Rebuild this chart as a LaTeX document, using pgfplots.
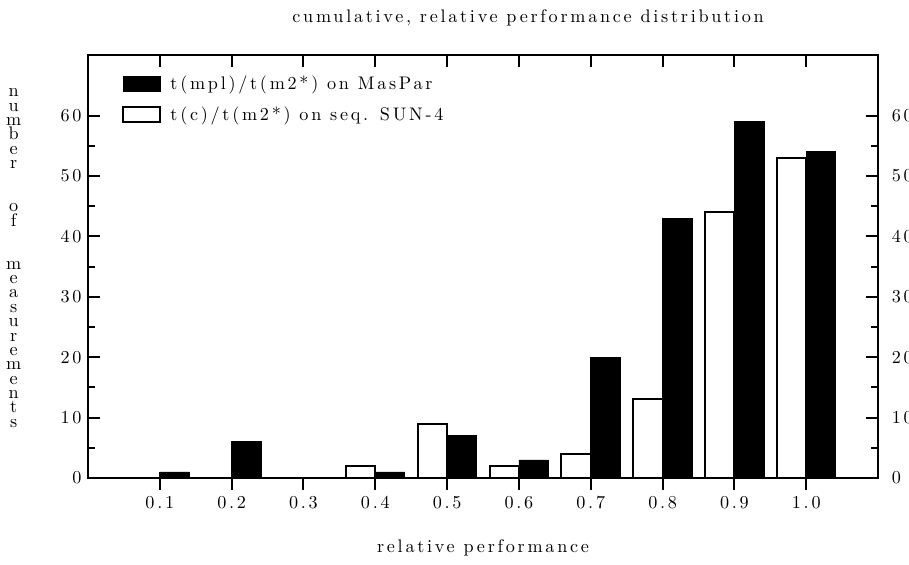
\documentclass[border=0pt]{standalone}
\usepackage{fontspec}
\setmainfont{lmroman10-regular.otf}[LetterSpace=15]
\usepackage{pgfplots}
\pgfplotsset{compat=1.18}

% common frame for both axes
\pgfplotsset{
  frame/.style={
    scale only axis, width=434.5pt, height=232.6pt,
    xmin=0, xmax=1.1, ymin=0, ymax=70,
    xtick={0.1,0.2,0.3,0.4,0.5,0.6,0.7,0.8,0.9,1.0},
    ytick={0,10,20,30,40,50,60}, minor y tick num=1,
    major tick length=6.5pt, minor tick length=4pt,
    every tick/.style={black, line width=1.1pt},
    axis line style={line width=1.1pt},
    /pgf/number format/assume math mode=true,
  },
  rect/.style={legend image code/.code={\draw[##1] (0pt,-4.1pt) rectangle (20.4pt,4.1pt);}},
}

\begin{document}
\begin{tikzpicture}
\begin{axis}[frame,
  xtick pos=lower, xtick align=outside,
  ytick pos=left, ytick align=inside,
  xticklabels={0.1,0.2,0.3,0.4,0.5,0.6,0.7,0.8,0.9,1.0},
  title={cumulative, relative performance distribution},
  title style={at={(axis description cs:0.557,1.062)}, anchor=center},
  xlabel={relative performance},
  xlabel style={at={(axis description cs:0.5,-0.165)}, anchor=center},
  ylabel={n\\u\\m\\b\\e\\r\\[15.8pt]o\\f\\[15.8pt]m\\e\\a\\s\\u\\r\\e\\m\\e\\n\\t\\s},
  ylabel style={at={(axis description cs:-0.094,0.52)}, anchor=center,
    rotate=-90, align=center, font=\fontsize{10}{7.9}\selectfont},
  legend style={at={(axis description cs:0.036,0.969)}, anchor=north west,
    draw=none, fill=none, row sep=4pt, column sep=3pt},
  legend cell align=left,
]
\addplot[ybar, bar width=16.2pt, bar shift=8.1pt, fill=black, draw=black, rect]
  coordinates {(0.1,1) (0.2,6) (0.3,0) (0.4,1) (0.5,7) (0.6,3) (0.7,20) (0.8,43) (0.9,59) (1.0,54)};
\addlegendentry{t(mpl)/t(m2*) on MasPar}
\addplot[ybar, bar width=16.2pt, bar shift=-8.1pt, fill=white, draw=black, line width=1.1pt, rect]
  coordinates {(0.1,0) (0.2,0) (0.3,0) (0.4,2) (0.5,9) (0.6,2) (0.7,4) (0.8,13) (0.9,44) (1.0,53)};
\addlegendentry{t(c)/t(m2*) on seq. SUN-4}
\coordinate (sw) at (rel axis cs:0,0);
\coordinate (ne) at (rel axis cs:1,1);
\end{axis}
\begin{axis}[frame,
  xtick pos=upper, xtick align=inside, xticklabels={},
  ytick pos=right, yticklabel pos=right, ytick align=inside,
  yticklabel style={xshift=4pt},
]
\end{axis}
% the reference cuts the right-hand labels at the page edge
\pgfresetboundingbox
\path[use as bounding box] ([xshift=-48.4pt,yshift=-47.3pt]sw) rectangle ([xshift=17pt,yshift=30.3pt]ne);
\end{tikzpicture}
\end{document}
